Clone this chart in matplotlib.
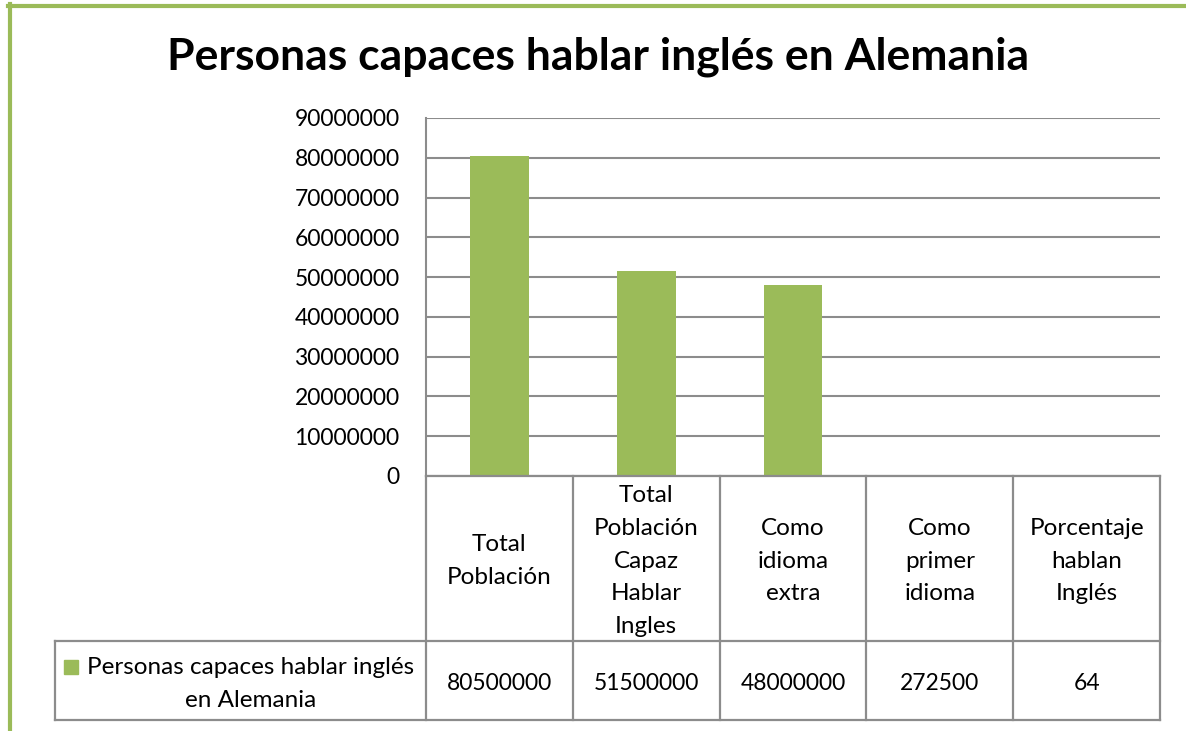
import matplotlib.pyplot as plt
from matplotlib.lines import Line2D
from matplotlib.patches import Rectangle
import matplotlib.transforms as mtransforms

# chart data
categories = ['Total\nPoblación', 'Total\nPoblación\nCapaz\nHablar\nIngles',
              'Como\nidioma\nextra', 'Como\nprimer\nidioma',
              'Porcentaje\nhablan\nInglés']
values = [80500000, 51500000, 48000000, 272500, 64]
series_name = 'Personas capaces hablar inglés\nen Alemania'
title = 'Personas capaces hablar inglés en Alemania'
yticks = list(range(0, 90000001, 10000000))

green = '#9BBB59'
gray = '#8C8C8C'
W, H = 1186, 731

plt.rcParams['font.family'] = ['Lato', 'DejaVu Sans']

fig = plt.figure(figsize=(W / 100, H / 100), dpi=100)


def fx(px):
    return px / W


def fy(py):
    return 1 - py / H


ax = fig.add_axes([fx(426), fy(476), fx(1160) - fx(426), fy(118) - fy(476)])
x = list(range(len(categories)))
ax.bar(x, values, width=0.4, color=green, zorder=3)
ax.set_xlim(-0.5, len(categories) - 0.5)
ax.set_ylim(0, 90000000)
ax.set_yticks(yticks)
ax.set_yticklabels([str(v) for v in yticks], fontsize=16.5)
ax.tick_params(axis='y', length=0, pad=19)
ax.set_xticks([])
ax.grid(axis='y', color=gray, linewidth=1.5, zorder=0)
for s in ['top', 'right', 'bottom']:
    ax.spines[s].set_visible(False)
ax.spines['left'].set_color(gray)
ax.spines['left'].set_linewidth(1.5)

fig.text(fx(598), fy(57), title, fontsize=32, fontweight='bold',
         ha='center', va='center')

# data table under the axes
tr = mtransforms.blended_transform_factory(ax.transData, fig.transFigure)
lw = 1.6
y_top, y_mid, y_bot = fy(476), fy(641), fy(720)
fig.add_artist(Line2D([fx(426), fx(1160)], [y_top, y_top], color=gray, lw=lw))
fig.add_artist(Line2D([fx(55), fx(1160)], [y_mid, y_mid], color=gray, lw=lw))
fig.add_artist(Line2D([fx(55), fx(1160)], [y_bot, y_bot], color=gray, lw=lw))
fig.add_artist(Line2D([fx(55), fx(55)], [y_mid, y_bot], color=gray, lw=lw))
for b in range(len(categories) + 1):
    fig.add_artist(Line2D([b - 0.5, b - 0.5], [y_top, y_bot], color=gray,
                          lw=lw, transform=tr))

for i, (c, v) in enumerate(zip(categories, values)):
    fig.text(i, fy(561), c, transform=tr, ha='center', va='center',
             fontsize=17.5, linespacing=1.69)
    fig.text(i, fy(684), str(v), transform=tr, ha='center', va='center',
             fontsize=16.5)

fig.add_artist(Rectangle((fx(64), fy(674)), fx(14), fy(660) - fy(674),
                         color=green))
fig.text(fx(251), fy(684), series_name, ha='center', va='center',
         fontsize=17.5, linespacing=1.66)

# green frame
fig.add_artist(Line2D([fx(8), 1], [fy(6), fy(6)], color=green, lw=3))
fig.add_artist(Line2D([fx(10), fx(10)], [fy(4), 0], color=green, lw=3))

fig.savefig('out.png', dpi=100)
